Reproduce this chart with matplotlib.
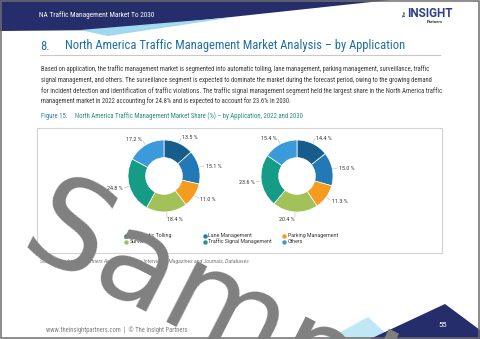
import matplotlib
matplotlib.use('Agg')
import matplotlib.pyplot as plt
from matplotlib.patches import Polygon, Rectangle
from matplotlib import font_manager
from matplotlib.font_manager import FontProperties
import numpy as np

# ---------------- data ----------------
categories = ["Automatic Tolling", "Lane Management", "Parking Management",
              "Surveillance", "Traffic Signal Management", "Others"]
share_2022 = [13.5, 15.1, 11.0, 18.4, 24.8, 17.2]
share_2030 = [14.4, 15.0, 11.3, 20.4, 23.6, 15.4]
colors = ["#175d8c", "#2279b5", "#f39c1f", "#a2c159", "#169c86", "#3b9ad9"]
legend_rows = [["Automatic Tolling", "Lane Management", "Parking Management"],
               ["Surveillance", "Traffic Signal Management", "Others"]]

header_text = "NA Traffic Management Market To 2030"
title_num = "8."
title_text = "North America Traffic Management Market Analysis \u2013 by Application"
para_lines = [
    "Based on application, the traffic management market is segmented into automatic tolling, lane management, parking management, surveillance, traffic",
    "signal management, and others. The surveillance segment is expected to dominate the market during the forecast period, owing to the growing demand",
    "for incident detection and identification of traffic violations. The traffic signal management segment held the largest share in the North America traffic",
    "management market in 2022 accounting for 24.8% and is expected to account for 23.6% in 2030.",
]
fig_num = "Figure 15."
fig_caption = "North America Traffic Management Market Share (%) \u2013 by Application, 2022 and 2030"
source_text = "Source: The Insight Partners Analysis, Primary Interviews, Magazines and Journals, Databases"
footer_text = "www.theinsightpartners.com  |  \u00a9 The Insight Partners"
page_no = "55"

# ---------------- fonts ----------------
body = 'Roboto'
cond = None
pref = ['Liberation Sans Narrow', 'Roboto Condensed', 'Open Sans Condensed', 'DejaVu Sans Condensed',
        'Noto Sans Condensed', 'Noto Sans SemiCondensed']
fl = font_manager.fontManager.ttflist
for p in pref:
    for f in fl:
        if f.name == p and f.style == 'normal' and f.weight in (400, 'normal', 'regular'):
            cond = f.fname
            break
    if cond:
        break
if cond is None:
    for f in fl:
        if f.stretch in ('condensed', 'semi-condensed') and f.style == 'normal' and f.weight in (400, 'normal'):
            cond = f.fname
            break


def cprops(bold=False, italic=False):
    if cond is not None and not bold and not italic:
        return FontProperties(fname=cond)
    return FontProperties(family=body, weight='bold' if bold else 'normal',
                          style='italic' if italic else 'normal')


W, H = 480, 339
fig = plt.figure(figsize=(4.8, 3.39), dpi=100)
bg = fig.add_axes([0, 0, 1, 1])
bg.set_xlim(0, W)
bg.set_ylim(H, 0)
bg.axis('off')
renderer = fig.canvas.get_renderer()


def fit(t, width):
    bb = t.get_window_extent(renderer)
    t.set_fontsize(t.get_fontsize() * width / bb.width)
    return t.get_fontsize()


# header decoration
navy = "#252d6b"
bg.add_patch(Polygon([(0, 0), (390, 0), (110, 30), (0, 31)], closed=True, color=navy, lw=0))
bg.add_patch(Polygon([(80, 30), (108, 36), (235, 17), (200, 20)], closed=True, color="#9fd8ef", lw=0))
bg.add_patch(Polygon([(150, 27), (210, 20), (110, 31)], closed=True, color="#cbeaf6", lw=0))
t = bg.text(39, 15, header_text, color='white', va='center', ha='left', fontproperties=cprops(), fontsize=5)
fit(t, 117)

# logo
t = bg.text(407, 13.5, "INSIGHT", color="#2b3f86", va='center', ha='left', family=body,
            fontweight='bold', fontsize=8)
fit(t, 46)
bg.text(404.5, 13, "The", color="#2b3f86", rotation=90, va='center', ha='center', family=body,
        fontsize=3, fontweight='bold')
t = bg.text(427, 22, "Partners", color="#333333", va='center', ha='left', family=body,
            fontweight='bold', fontsize=3)
fit(t, 16)

# title
t1 = bg.text(40, 46, title_num, color="#1f6ea3", va='center', ha='left', fontproperties=cprops(), fontsize=10)
t2 = bg.text(65, 46, title_text, color="#1f6ea3", va='center', ha='left', fontproperties=cprops(), fontsize=10)
fs = fit(t2, 337)
t1.set_fontsize(fs)
bg.plot([40, 440], [54.5, 54.5], color="#c8c8c8", lw=0.8)

# paragraph
ys = [69, 80, 91, 101.5]
widths = [392, 396, 397]
sizes = []
for i, line in enumerate(para_lines):
    t = bg.text(41, ys[i], line, color="#3a3a3a", va='center', ha='left', fontproperties=cprops(), fontsize=4)
    if i < 3:
        sizes.append(fit(t, widths[i]))
    else:
        t.set_fontsize(np.mean(sizes))

# caption
t = bg.text(41, 116, fig_num, color="#2a7ab0", va='center', ha='left', fontproperties=cprops(), fontsize=5)
t2 = bg.text(75, 116, fig_caption, color="#2a8c7c", va='center', ha='left', fontproperties=cprops(), fontsize=5)
fs = fit(t2, 233)
t.set_fontsize(fs)

# chart box
bg.add_patch(Rectangle((37, 128), 405, 125, fill=False, edgecolor="#d3d3d3", lw=0.8))


# pies
def draw_pie(cx, cy, R, values):
    ax = fig.add_axes([(cx - R) / W, (H - cy - R) / H, 2 * R / W, 2 * R / H])
    wedges, _ = ax.pie(values, colors=colors, startangle=90, counterclock=False,
                       wedgeprops=dict(width=0.49, edgecolor='white', linewidth=0.5))
    ax.set_xlim(-1, 1)
    ax.set_ylim(-1, 1)
    ax.axis('off')
    for w, v in zip(wedges, values):
        th = np.deg2rad((w.theta1 + w.theta2) / 2)
        x, y = np.cos(th), np.sin(th)
        ax.plot([1.02 * x, 1.14 * x], [1.02 * y, 1.14 * y], color="#b8c8d0", lw=0.5, clip_on=False)
        ha = 'left' if x >= 0 else 'right'
        ax.text(1.19 * x, 1.19 * y - 0.02, f"{v:.1f} %", ha=ha, va='center', fontsize=3.9,
                color="#333333", family=body, clip_on=False)
    return ax


draw_pie(164, 176, 36, share_2022)
draw_pie(297, 176, 36, share_2030)

# legend
col_x = [126, 205, 284]
row_y = [235.5, 241.5]
for r, row in enumerate(legend_rows):
    for c, name in enumerate(row):
        col = colors[categories.index(name)]
        bg.plot(col_x[c], row_y[r], 'o', ms=3.2, color=col, mec='none')
        bg.text(col_x[c] + 3.5, row_y[r], name, va='center', ha='left', fontsize=3.8,
                color="#333333", family=body)

# source
t = bg.text(40, 262, source_text, color="#777777", va='center', ha='left', family=body,
            fontsize=3, style='italic')
fit(t, 208)

# footer
bg.add_patch(Polygon([(328, 339), (368, 317), (392, 339)], closed=True, color="#bfe7f5", lw=0))
bg.add_patch(Polygon([(370, 339), (445, 304), (480, 330), (480, 339)], closed=True, color=navy, lw=0))
bg.text(443, 325, page_no, color='white', va='center', ha='center', family=body, fontsize=5.5)
t = bg.text(46, 330, footer_text, color="#808080", va='center', ha='left', fontproperties=cprops(), fontsize=3.5)
fit(t, 145)

# page border
bg.add_patch(Rectangle((0.7, 0.7), W - 1.4, H - 1.4, fill=False, edgecolor="#6e6e6e", lw=1.1))

# watermark
bg.text(17, 250, "Sample", rotation=-27, rotation_mode='anchor', ha='left', va='baseline',
        fontsize=90, color="#808080", family='DejaVu Sans', zorder=20)

fig.savefig("out.png", dpi=100)
